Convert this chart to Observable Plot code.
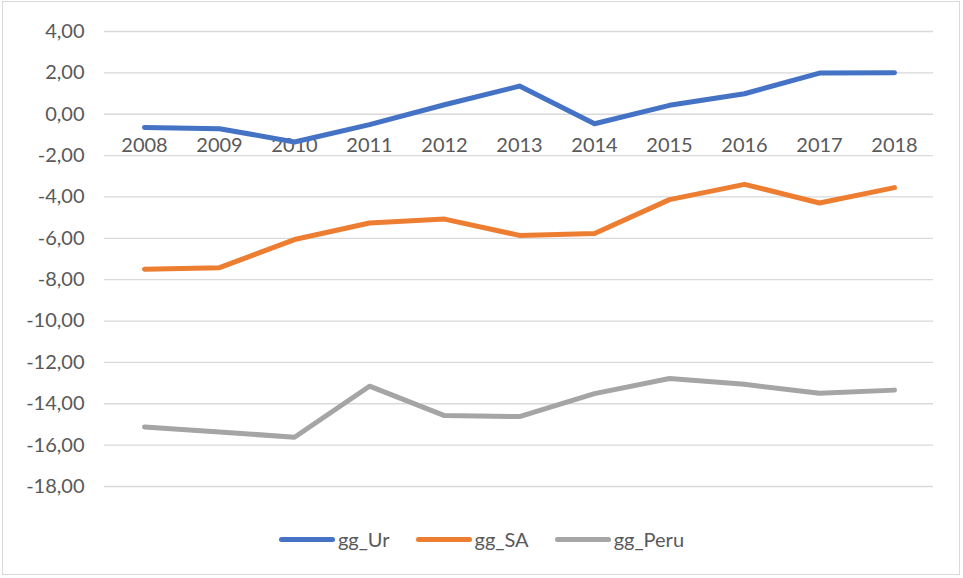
<!DOCTYPE html>
<html>
<head>
<meta charset="utf-8">
<script src="https://cdn.jsdelivr.net/npm/d3@7"></script>
<script src="https://cdn.jsdelivr.net/npm/@observablehq/plot@0.6"></script>
<style>
  html, body { margin: 0; padding: 0; background: #fff; }
  body { width: 963px; height: 578px; position: relative; overflow: hidden; font-family: Lato, "Open Sans", sans-serif; }
  #frame { position: absolute; left: 2px; top: 1px; width: 958px; height: 574px; border: 1px solid #d9d9d9; box-sizing: border-box; }
  #chart { position: absolute; left: 0; top: 0; }
  #legend { position: absolute; left: 0; top: 527px; width: 963px; display: flex; justify-content: center; font-size: 20px; color: #595959; }
  .item { display: flex; align-items: center; margin: 0 13px; }
  .sw { width: 56px; height: 5px; border-radius: 3px; margin-right: 3px; }
</style>
</head>
<body>
<div id="frame"></div>
<div id="chart"></div>
<div id="legend"></div>
<script>
const years = ["2008","2009","2010","2011","2012","2013","2014","2015","2016","2017","2018"];
const seriesNames = ["gg_Ur", "gg_SA", "gg_Peru"];
const ggUr   = [-0.64, -0.70, -1.34, -0.50, 0.46, 1.36, -0.46, 0.43, 0.99, 1.99, 2.01];
const ggSA   = [-7.49, -7.42, -6.06, -5.26, -5.07, -5.86, -5.77, -4.13, -3.39, -4.29, -3.55];
const ggPeru = [-15.12, -15.36, -15.62, -13.15, -14.57, -14.62, -13.51, -12.78, -13.06, -13.49, -13.34];
const yTicks = [4, 2, 0, -2, -4, -6, -8, -10, -12, -14, -16, -18];
const colors = ["#4472C4", "#ED7D31", "#A5A5A5"];

const seriesValues = [ggUr, ggSA, ggPeru];
const data = [];
seriesNames.forEach((name, i) => {
  years.forEach((yr, j) => data.push({series: name, year: yr, value: seriesValues[i][j]}));
});

const fmt = d => d.toFixed(2).replace(".", ",");

const chart = Plot.plot({
  width: 963,
  height: 510,
  marginLeft: 104,
  marginRight: 30,
  marginTop: 31,
  marginBottom: 24,
  style: {fontFamily: "Lato, 'Open Sans', sans-serif", fontSize: "20px", color: "#595959", background: "transparent"},
  x: {type: "point", domain: years, padding: 0.5, axis: null},
  y: {domain: [-18, 4], axis: null},
  color: {domain: seriesNames, range: colors},
  marks: [
    Plot.ruleY(yTicks, {stroke: "#d9d9d9", strokeWidth: 1.3}),
    Plot.text(yTicks, {x: () => years[0], y: d => d, text: fmt, frameAnchor: "left", textAnchor: "end", dx: -60, fill: "#595959", fontSize: 20}),
    Plot.text(years, {x: d => d, y: () => 0, text: d => d, dy: 31, fill: "#595959", fontSize: 20}),
    Plot.line(data, {x: "year", y: "value", z: "series", stroke: "series", strokeWidth: 5, strokeLinecap: "round", strokeLinejoin: "round"})
  ]
});
document.getElementById("chart").appendChild(chart);

const legend = document.getElementById("legend");
seriesNames.forEach((name, i) => {
  const it = document.createElement("div");
  it.className = "item";
  const sw = document.createElement("div");
  sw.className = "sw";
  sw.style.background = colors[i];
  const tx = document.createElement("span");
  tx.textContent = name;
  it.appendChild(sw);
  it.appendChild(tx);
  legend.appendChild(it);
});
</script>
</body>
</html>
